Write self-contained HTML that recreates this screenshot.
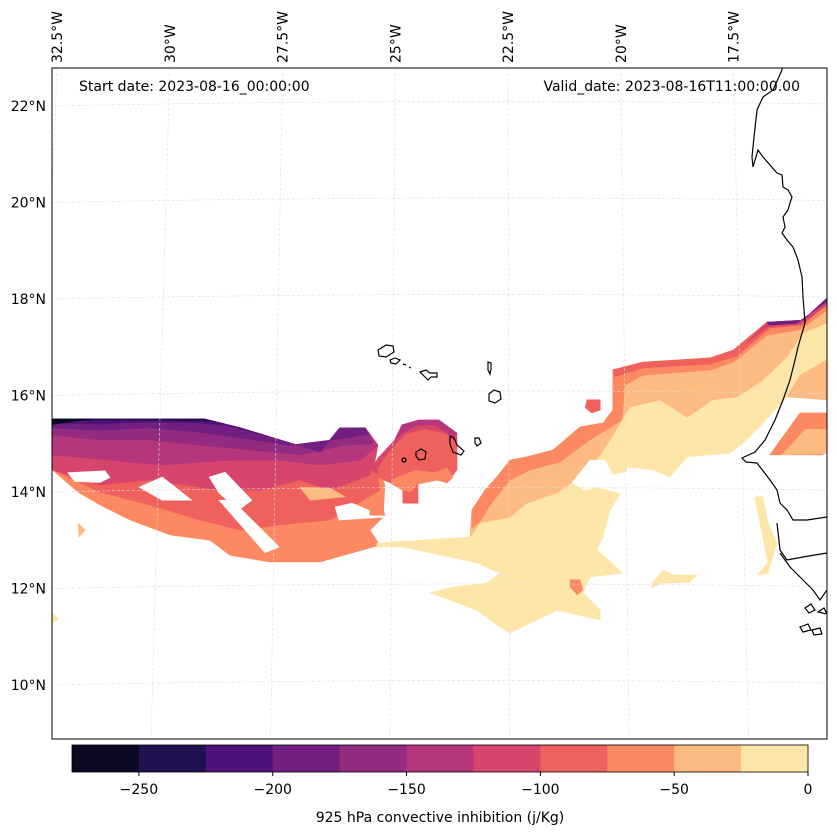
<!DOCTYPE html>
<html><head><meta charset="utf-8">
<style>
html,body{margin:0;padding:0;background:#fff;}
svg{display:block;font-family:"DejaVu Sans","Liberation Sans",sans-serif;}
</style></head>
<body>
<svg id="chart" width="837" height="836" viewBox="0 0 837 836" xmlns="http://www.w3.org/2000/svg">
<defs><clipPath id="frameClip"><rect x="52" y="68" width="775" height="671"/></clipPath></defs>
<g id="fills" clip-path="url(#frameClip)"></g>
<g id="grid" clip-path="url(#frameClip)"></g>
<g id="coast" clip-path="url(#frameClip)" fill="none" stroke="#000" stroke-width="1.2">
<path d="M782,68 L782,70 773,90 763,97 757,110 754,137 752,157 753,167 758,150 763,157 777,173 782,175 783,187 788,190 792,197 790,203 788,210 783,217 785,227 782,233 787,240 793,247 798,260 802,277 803,297 805,323 798,347 795,360 790,380 783,400 775,420 765,440 755,452 742,458 746,462 757,463 770,480 777,490 780,503 787,510 793,520 807,520 827,517"/>
<path d="M777,523 L780,550 787,560 803,557 827,553"/>
<path d="M780,553 L790,567 803,580 813,590 820,600 827,590"/>
<path d="M805,608 l6,-4 4,6 -6,3z M800,627 l8,-3 3,6 -8,2z M812,630 l8,-2 2,6 -8,1z M818,612 l6,-4 3,6z"/>
<path d="M378,350 l8,-5 7,1 1,6 -8,5 -7,-1z"/>
<path d="M390,360 l5,-2 5,2 -4,4 -5,-1z"/>
<path d="M420,372 l6,-2 4,3 7,0 0,4 -6,0 -3,3 -3,-3z"/>
<path d="M488,362 l3,1 0,6 -1,5 -2,-4z"/>
<path d="M489,394 l5,-4 6,2 1,7 -6,4 -6,-2z"/>
<path d="M450,436 l4,2 3,7 7,6 -3,4 -8,-3 -3,-8z"/>
<path d="M475,438 l4,0 2,5 -4,3 -2,-3z"/>
<path d="M416,452 l5,-3 5,3 -1,7 -6,1 -3,-4z"/>
<path d="M404,458 a2,2 0 1,0 0.1,0z"/>
<path d="M403,364 l3,1 M409,367 l2,1"/>
</g>
<rect x="52" y="68" width="775" height="671" fill="none" stroke="#000" stroke-width="1"/>
<g id="latlabels" font-size="14" fill="#000"></g>
<g id="lonlabels" font-size="14" fill="#000"></g>
<text x="79" y="91" font-size="14">Start date: 2023-08-16_00:00:00</text>
<text x="800" y="91" font-size="14" text-anchor="end">Valid_date: 2023-08-16T11:00:00.00</text>
<g id="colorbar"></g>
<text x="440" y="822" font-size="14" text-anchor="middle">925 hPa convective inhibition (j/Kg)</text>
</svg>
<script>
// ---- colorbar data ----
const cinLevels = [-275,-250,-225,-200,-175,-150,-125,-100,-75,-50,-25,0];
const cinColors = ["#0a0822","#221150","#4f127b","#721f81","#932b80","#b5367a","#d8456c","#f0605d","#fc8961","#febb81","#fde6a7"];
const cbTicks = [-250,-200,-150,-100,-50,0];
const cbTickLabels = ["\u2212250","\u2212200","\u2212150","\u2212100","\u221250","0"];
const latTicks = [22,20,18,16,14,12,10];
const lonTicks = [-32.5,-30,-27.5,-25,-22.5,-20,-17.5];
const lonTickLabels = ["32.5°W","30°W","27.5°W","25°W","22.5°W","20°W","17.5°W"];

// ---- CIN contour regions: band lower-bound value (null = no data) + [lon,lat] outlines ----
const regionValues = [-75,-100,-125,-150,-175,-200,-225,-250,-275,null,null,null,null,null,-50,
 -125,-150,-100,-75,
 -25,-50,-75,-100,-125,-200,-50,-75,-50,null,
 -25,-25,-75,-25,-50,-100,-75];
const regionOutlines = [
 [[-32.23,15.51],[-28.98,15.51],[-28.23,15.33],[-27.38,15.08],[-26.53,14.83],[-26.11,15.33],[-25.57,15.33],[-25.30,14.97],[-25.36,14.66],[-25.15,14.15],[-25.19,13.48],[-25.47,13.21],[-25.26,12.90],[-26.53,12.55],[-27.60,12.55],[-28.45,12.69],[-28.87,13.00],[-29.72,13.11],[-30.57,13.42],[-31.21,13.73],[-31.68,14.00],[-32.23,14.46]],
 [[-32.23,15.51],[-28.98,15.51],[-28.23,15.33],[-27.38,15.08],[-26.53,14.83],[-26.11,15.33],[-25.57,15.33],[-25.30,14.97],[-25.36,14.66],[-25.26,14.04],[-26.32,13.42],[-27.38,13.32],[-28.23,13.21],[-29.09,13.42],[-30.15,13.73],[-31.21,14.00],[-32.23,14.46]],
 [[-32.23,15.51],[-28.98,15.51],[-28.23,15.33],[-27.38,15.08],[-26.53,14.83],[-26.11,15.33],[-25.57,15.33],[-25.30,14.97],[-25.36,14.66],[-25.47,14.35],[-26.32,14.04],[-26.96,14.25],[-27.81,14.04],[-28.66,14.04],[-30.15,14.25],[-31.21,14.15],[-32.23,14.46]],
 [[-32.23,15.51],[-28.98,15.51],[-28.23,15.33],[-27.38,15.08],[-26.53,14.83],[-26.11,15.33],[-25.57,15.33],[-25.30,14.97],[-25.68,14.66],[-26.53,14.56],[-27.38,14.66],[-28.45,14.66],[-29.94,14.56],[-31.0,14.66],[-32.23,14.77]],
 [[-32.23,15.51],[-28.98,15.51],[-28.23,15.33],[-27.38,15.08],[-26.53,14.83],[-26.11,15.33],[-25.57,15.33],[-25.40,15.0],[-26.0,14.97],[-26.96,14.77],[-28.02,14.87],[-29.09,14.97],[-30.15,15.08],[-31.21,15.08],[-32.23,15.18]],
 [[-32.23,15.51],[-28.98,15.51],[-28.23,15.33],[-27.38,15.08],[-26.53,14.83],[-26.11,15.33],[-25.57,15.33],[-25.50,15.2],[-26.11,15.1],[-27.17,14.97],[-28.23,15.12],[-29.09,15.24],[-30.15,15.33],[-31.21,15.28],[-32.23,15.33]],
 [[-32.23,15.51],[-28.98,15.51],[-28.23,15.33],[-27.6,15.14],[-28.45,15.37],[-29.09,15.43],[-30.15,15.45],[-31.21,15.41],[-32.23,15.43]],
 [[-32.23,15.51],[-28.98,15.51],[-28.87,15.47],[-30.15,15.49],[-32.23,15.48]],
 [[-32.23,15.51],[-31.4,15.51],[-32.23,15.40]],
 [[-31.90,14.40],[-31.11,14.44],[-31.00,14.30],[-31.21,14.20],[-31.75,14.22]],
 [[-30.38,14.10],[-29.89,14.31],[-29.26,13.83],[-29.89,13.83]],
 [[-28.89,14.31],[-28.55,14.41],[-27.98,13.83],[-28.26,13.63],[-28.68,13.98]],
 [[-28.68,13.83],[-28.40,13.83],[-27.40,12.86],[-27.70,12.74]],
 [[-26.21,13.69],[-25.85,13.77],[-25.15,13.48],[-26.13,13.42]],
 [[-26.96,14.10],[-26.32,14.08],[-26.0,13.90],[-26.74,13.83]],
 [[-25.43,14.46],[-25.30,14.70],[-24.94,15.08],[-24.79,15.39],[-24.43,15.49],[-24.00,15.49],[-23.62,15.22],[-23.62,14.46],[-23.83,14.19],[-24.04,14.25],[-24.45,14.17],[-24.45,13.77],[-24.77,13.77],[-24.77,14.04],[-25.04,14.19]],
 [[-24.94,15.08],[-24.79,15.39],[-24.43,15.49],[-24.00,15.49],[-23.62,15.22],[-23.7,15.15],[-24.1,15.40],[-24.5,15.38],[-24.8,15.2]],
 [[-25.3,14.5],[-25.0,14.9],[-24.7,15.2],[-24.3,15.3],[-23.85,15.2],[-23.62,15.0],[-23.62,14.46],[-23.83,14.19],[-24.04,14.25],[-24.45,14.17],[-24.45,13.77],[-24.77,13.77],[-24.77,14.04],[-25.04,14.19],[-25.3,14.3]],
 [[-24.9,14.3],[-24.5,14.45],[-24.1,14.4],[-23.83,14.5],[-23.7,14.3],[-23.83,14.19],[-24.04,14.25],[-24.45,14.17],[-24.6,14.0],[-24.77,14.04],[-25.04,14.19]],
 [[-25.32,12.94],[-23.34,13.07],[-23.30,13.63],[-23.02,14.04],[-22.77,14.31],[-22.49,14.66],[-22.13,14.73],[-21.57,14.87],[-21.00,15.35],[-20.51,15.43],[-20.30,15.70],[-20.30,16.53],[-19.66,16.69],[-18.23,16.78],[-17.74,16.94],[-17.02,17.52],[-16.26,17.56],[-15.74,18.02],[-15.74,15.91],[-16.60,15.97],[-17.11,15.43],[-17.45,15.08],[-17.81,14.81],[-18.72,14.73],[-19.09,14.31],[-19.45,14.46],[-20.00,14.52],[-20.09,14.04],[-20.36,13.63],[-20.51,13.07],[-20.64,12.80],[-20.09,12.32],[-20.79,12.24],[-20.94,11.91],[-20.57,11.55],[-20.57,11.35],[-21.49,11.55],[-22.49,11.08],[-22.70,11.20],[-23.19,11.55],[-24.19,11.91],[-23.70,12.03],[-22.98,12.11],[-22.70,12.32],[-23.19,12.53],[-24.19,12.74],[-24.77,12.86],[-25.32,12.86]],
 [[-23.34,13.07],[-23.30,13.63],[-23.02,14.04],[-22.77,14.31],[-22.49,14.66],[-22.13,14.73],[-21.57,14.87],[-21.00,15.35],[-20.51,15.43],[-20.30,15.70],[-20.30,16.53],[-19.66,16.69],[-18.23,16.78],[-17.74,16.94],[-17.02,17.52],[-16.26,17.56],[-15.74,18.02],[-15.74,17.50],[-16.26,17.30],[-16.60,16.80],[-17.11,16.32],[-17.66,15.97],[-18.17,15.91],[-18.72,15.55],[-19.30,15.91],[-19.94,15.76],[-20.36,15.08],[-20.79,14.46],[-21.49,13.98],[-22.13,13.77],[-22.49,13.48],[-23.13,13.36]],
 [[-23.30,13.63],[-23.02,14.04],[-22.77,14.31],[-22.49,14.66],[-22.13,14.73],[-21.57,14.87],[-21.00,15.35],[-20.51,15.43],[-20.30,15.70],[-20.30,16.53],[-19.66,16.69],[-18.23,16.78],[-17.74,16.94],[-17.02,17.52],[-16.26,17.56],[-15.74,18.02],[-15.74,17.77],[-16.32,17.36],[-17.02,17.25],[-17.74,16.69],[-18.23,16.53],[-19.66,16.42],[-20.04,16.22],[-20.11,15.49],[-20.79,15.08],[-21.43,14.62],[-22.06,14.46],[-22.49,14.25],[-22.91,13.73],[-23.13,13.38],[-23.30,13.25]],
 [[-20.30,16.53],[-19.66,16.69],[-18.23,16.78],[-17.74,16.94],[-17.02,17.52],[-16.26,17.56],[-15.74,18.02],[-15.74,17.91],[-16.26,17.46],[-16.96,17.40],[-17.66,16.82],[-18.23,16.65],[-19.66,16.57],[-20.26,16.39]],
 [[-17.5,17.05],[-17.02,17.52],[-16.26,17.56],[-15.74,18.02],[-15.74,17.88],[-16.3,17.48],[-17.0,17.42]],
 [[-17.02,17.52],[-16.26,17.56],[-15.74,18.02],[-15.74,17.95],[-16.4,17.49],[-16.98,17.46]],
 [[-16.60,15.97],[-16.32,16.42],[-15.74,16.74],[-15.74,15.91]],
 [[-16.96,14.77],[-16.32,15.64],[-15.74,15.64],[-15.74,14.97],[-15.83,14.77]],
 [[-16.7,14.77],[-16.2,15.3],[-15.74,15.3],[-15.74,14.8]],
 [[-21.17,14.19],[-20.79,14.66],[-20.47,14.66],[-20.30,14.35],[-19.72,14.46],[-19.30,14.29],[-19.51,13.83],[-19.94,13.83],[-20.21,14.00],[-20.64,14.10],[-20.89,14.04]],
 [[-17.28,13.90],[-17.11,13.90],[-17.00,13.36],[-16.81,12.94],[-17.00,12.32],[-17.23,12.28],[-17.00,12.53],[-17.17,13.36]],
 [[-19.47,12.11],[-19.23,12.38],[-19.02,12.28],[-18.51,12.28],[-18.66,12.13],[-19.30,12.11],[-19.47,12.01]],
 [[-21.21,12.18],[-21.00,12.18],[-20.94,11.97],[-21.06,11.87],[-21.21,12.03]],
 [[-32.23,11.51],[-32.1,11.35],[-32.23,11.3]],
 [[-31.68,13.36],[-31.53,13.21],[-31.66,13.07]],
 [[-20.85,15.91],[-20.57,15.91],[-20.57,15.70],[-20.75,15.64],[-20.89,15.75]],
 [[-25.47,13.90],[-25.26,13.83],[-25.15,13.52],[-25.47,13.52]]
];

function px(lon){ return 392 + (lon + 25) * 47; }
function py(lat){ return 106 + (22 - lat) * 48.25; }
function colorFor(v){
  if(v === null) return "#ffffff";
  const i = Math.max(0, Math.min(cinColors.length-1, Math.round((v - cinLevels[0]) / 25)));
  return cinColors[i];
}
const NS = "http://www.w3.org/2000/svg";
const fills = document.getElementById("fills");
regionOutlines.forEach((pts, k) => {
  const p = document.createElementNS(NS, "polygon");
  p.setAttribute("points", pts.map(q => px(q[0]).toFixed(1) + "," + py(q[1]).toFixed(1)).join(" "));
  p.setAttribute("fill", colorFor(regionValues[k]));
  p.setAttribute("stroke", colorFor(regionValues[k]));
  p.setAttribute("stroke-width", "0.6");
  
  
  fills.appendChild(p);
});

const grid = document.getElementById("grid");
function lonLine(lon){
  const xt = 57 + (lon + 32.5) * 45.1, xb = 390 + (lon + 25) * 47.8;
  return [xt, xb];
}
lonTicks.forEach((lon, i) => {
  const [xt, xb] = lonLine(lon);
  const l = document.createElementNS(NS, "line");
  l.setAttribute("x1", xt); l.setAttribute("y1", 68); l.setAttribute("x2", xb); l.setAttribute("y2", 739);
  l.setAttribute("stroke", "#dcdcdc"); l.setAttribute("stroke-width", "0.6"); l.setAttribute("stroke-dasharray", "3,2");
  
  
  grid.appendChild(l);
  const t = document.createElementNS(NS, "text");
  t.setAttribute("transform", "translate(" + (xt + 5) + ",63) rotate(-90)");
  t.textContent = lonTickLabels[i];
  
  
  document.getElementById("lonlabels").appendChild(t);
});
latTicks.forEach(lat => {
  const y = py(lat);
  const l = document.createElementNS(NS, "path");
  l.setAttribute("d", "M52," + y + " Q440," + (y - 8) + " 827," + (y - 2));
  l.setAttribute("fill", "none");
  l.setAttribute("stroke", "#dcdcdc"); l.setAttribute("stroke-width", "0.6"); l.setAttribute("stroke-dasharray", "3,2");
  
  
  grid.appendChild(l);
  const t = document.createElementNS(NS, "text");
  t.setAttribute("x", 46); t.setAttribute("y", y + 5); t.setAttribute("text-anchor", "end");
  t.textContent = lat + "°N";
  
  
  document.getElementById("latlabels").appendChild(t);
});

const cb = document.getElementById("colorbar");
const cbX0 = 72, cbX1 = 808, cbY = 745, cbH = 27;
function cbx(v){ return cbX0 + (v - cinLevels[0]) / (cinLevels[cinLevels.length-1] - cinLevels[0]) * (cbX1 - cbX0); }
for (let i = 0; i < cinColors.length; i++) {
  const r = document.createElementNS(NS, "rect");
  r.setAttribute("x", cbx(cinLevels[i])); r.setAttribute("y", cbY);
  r.setAttribute("width", cbx(cinLevels[i+1]) - cbx(cinLevels[i]) + 0.5); r.setAttribute("height", cbH);
  r.setAttribute("fill", cinColors[i]);
  
  
  cb.appendChild(r);
}
const frame = document.createElementNS(NS, "rect");
frame.setAttribute("x", cbX0); frame.setAttribute("y", cbY); frame.setAttribute("width", cbX1 - cbX0); frame.setAttribute("height", cbH);
frame.setAttribute("fill", "none"); frame.setAttribute("stroke", "#000"); frame.setAttribute("stroke-width", "0.8");


cb.appendChild(frame);
cbTicks.forEach((v, i) => {
  const x = cbx(v);
  const tk = document.createElementNS(NS, "line");
  tk.setAttribute("x1", x); tk.setAttribute("x2", x); tk.setAttribute("y1", cbY + cbH); tk.setAttribute("y2", cbY + cbH + 4);
  tk.setAttribute("stroke", "#000");
  
  
  cb.appendChild(tk);
  const t = document.createElementNS(NS, "text");
  t.setAttribute("x", x); t.setAttribute("y", 794); t.setAttribute("text-anchor", "middle"); t.setAttribute("font-size", "14");
  t.textContent = cbTickLabels[i];
  
  
  cb.appendChild(t);
});
</script>
</body></html>
